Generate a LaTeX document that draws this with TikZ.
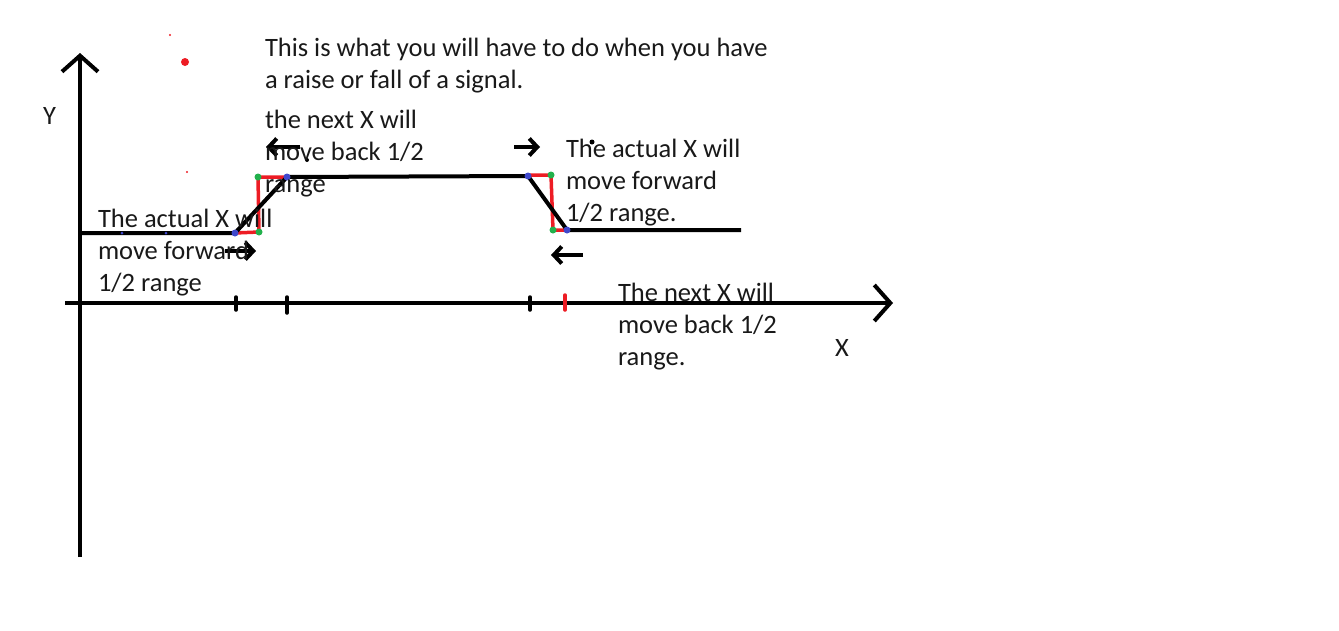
\documentclass[tikz,border=0pt]{standalone}
\usepackage{fontspec}
\setmainfont{Carlito}
\usetikzlibrary{arrows.meta}
\definecolor{paintred}{RGB}{237,28,36}
\definecolor{paintgreen}{RGB}{34,177,76}
\definecolor{paintblue}{RGB}{63,72,204}
\begin{document}
\begin{tikzpicture}[x=1pt,y=-1pt,line width=4pt,
    axis/.style={-{Straight Barb[length=16pt,width=36pt]}},
    mover/.style={-{Straight Barb[length=8pt,width=17pt]}},
    fix/.style={paintred,line width=3.5pt},
    tick/.style={line width=3.5pt,line cap=round},
    note/.style={anchor=base west,inner sep=0pt,align=left,text=black!90,
        font=\fontsize{26.5}{32}\selectfont}]
    \useasboundingbox (0,0) rectangle (1339,630);
    \coordinate (ytop) at (80,53);
    \coordinate (ybot) at (80,557);
    \coordinate (xleft) at (65,303);
    \coordinate (xright) at (893,303);
    \coordinate (s0) at (80,233);
    \coordinate (rise1) at (235,233);
    \coordinate (g1) at (259,232);
    \coordinate (g2) at (258,177);
    \coordinate (rise2) at (287,177);
    \coordinate (fall1) at (528,176);
    \coordinate (g3) at (551,175);
    \coordinate (g4) at (553,230);
    \coordinate (fall2) at (567,230);
    \coordinate (s5) at (741,230);
    \draw[axis] (ybot) -- (ytop);
    \draw[axis] (xleft) -- (xright);
    \draw[fix] (rise1) -- (g1) -- (g2) -- (rise2);
    \draw[fix] (528,175) -- (g3) -- (g4) -- (fall2);
    \draw (s0) -- (rise1) -- (rise2) -- (fall1) -- (fall2) -- (s5);
    \draw[tick] (236,297) -- (236,310);
    \draw[tick] (287,297) -- (287,313);
    \draw[tick] (530,297) -- (530,310);
    \draw[tick,paintred] (565,295) -- (565,310);
    \foreach \p in {g1,g2,g3,g4}
        \fill[paintgreen] (\p) circle (3.5pt);
    \foreach \p in {rise1,rise2,fall1,fall2}
        \fill[paintblue] (\p) circle (3.5pt);
    \fill[paintblue] (122,233) circle (1.5pt);
    \fill[paintblue] (166,233) circle (1.5pt);
    \fill[paintred] (170,35) circle (1.2pt);
    \fill[paintred] (185,62) circle (4pt);
    \fill[paintred] (187,172) circle (1.2pt);
    \fill (592,142) circle (2.5pt);
    \fill (307,160) circle (2pt);
    \coordinate (a1s) at (300,147);
    \coordinate (a1e) at (266,147);
    \coordinate (a2s) at (514,147);
    \coordinate (a2e) at (540,147);
    \coordinate (a3s) at (225,251);
    \coordinate (a3e) at (256,251);
    \coordinate (a4s) at (583,255);
    \coordinate (a4e) at (551,255);
    \draw[mover] (a1s) -- (a1e);
    \draw[mover] (a2s) -- (a2e);
    \draw[mover] (a3s) -- (a3e);
    \draw[mover] (a4s) -- (a4e);
    \node[note] (title) at (263,88) {This is what you will have to do when you have\\a raise or fall of a signal.};
    \node[note] (ylabel) at (41,124) {Y};
    \node[note] (xlabel) at (833,356) {X};
    \node[note] (nextup) at (263,192) {the next X will\\move back 1/2\\range};
    \node[note] (actualup) at (96,291) {The actual X will\\move forward\\1/2 range};
    \node[note] (actualdown) at (564,221) {The actual X will\\move forward\\1/2 range.};
    \node[note] (nextdown) at (616,365) {The next X will\\move back 1/2\\range.};
\end{tikzpicture}
\end{document}
